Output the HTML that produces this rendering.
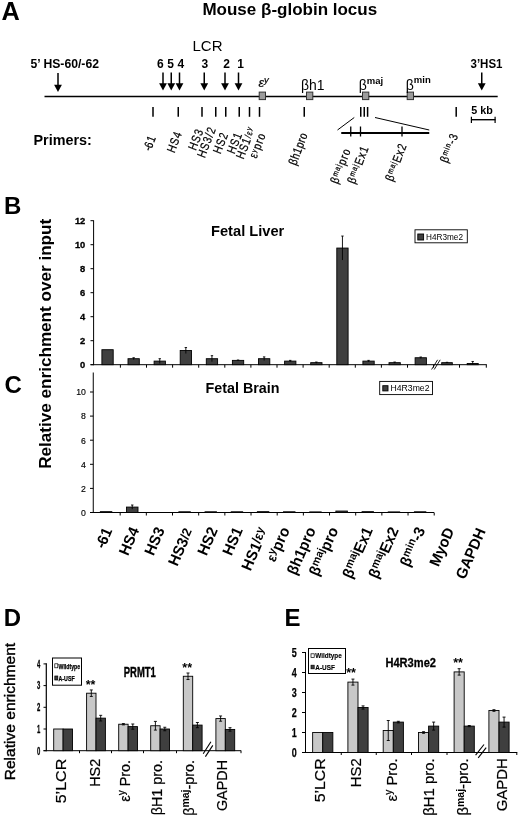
<!DOCTYPE html>
<html><head><meta charset="utf-8"><title>Mouse β-globin locus</title>
<style>
html,body{margin:0;padding:0;background:#fff;}
svg{display:block;font-family:"Liberation Sans", sans-serif;fill:#000;}
</style></head><body>
<svg width="520" height="819" viewBox="0 0 520 819">
<rect x="0" y="0" width="520" height="819" fill="#fff" stroke="none"/>
<text x="1.6" y="19.6" font-size="25.3" font-weight="bold" text-anchor="start" >A</text>
<text x="289.8" y="14.7" font-size="17" font-weight="bold" text-anchor="middle" >Mouse β-globin locus</text>
<text x="192.5" y="51.3" font-size="15" font-weight="normal" text-anchor="start" >LCR</text>
<text x="30.5" y="67.8" font-size="12" font-weight="bold" text-anchor="start" textLength="68.5" lengthAdjust="spacingAndGlyphs" >5’ HS-60/-62</text>
<text x="160.3" y="67.8" font-size="12" font-weight="bold" text-anchor="middle" >6</text>
<text x="170.5" y="67.8" font-size="12" font-weight="bold" text-anchor="middle" >5</text>
<text x="180.9" y="67.8" font-size="12" font-weight="bold" text-anchor="middle" >4</text>
<text x="204.8" y="67.8" font-size="12" font-weight="bold" text-anchor="middle" >3</text>
<text x="226.6" y="67.8" font-size="12" font-weight="bold" text-anchor="middle" >2</text>
<text x="240.6" y="67.8" font-size="12" font-weight="bold" text-anchor="middle" >1</text>
<text x="470.5" y="67.8" font-size="12" font-weight="bold" text-anchor="start" textLength="32" lengthAdjust="spacingAndGlyphs" >3’HS1</text>
<line x1="58" y1="73" x2="58" y2="85.7" stroke="#000" stroke-width="1.5"/>
<path d="M54.1,84.7 L61.9,84.7 L58,92 Z" fill="#000"/>
<line x1="163" y1="72.5" x2="163" y2="84.2" stroke="#000" stroke-width="1.5"/>
<path d="M159.1,83.2 L166.9,83.2 L163,90.5 Z" fill="#000"/>
<line x1="171.25" y1="72.5" x2="171.25" y2="84.2" stroke="#000" stroke-width="1.5"/>
<path d="M167.35,83.2 L175.15,83.2 L171.25,90.5 Z" fill="#000"/>
<line x1="179.5" y1="72.5" x2="179.5" y2="84.2" stroke="#000" stroke-width="1.5"/>
<path d="M175.6,83.2 L183.4,83.2 L179.5,90.5 Z" fill="#000"/>
<line x1="204.25" y1="72.5" x2="204.25" y2="84.2" stroke="#000" stroke-width="1.5"/>
<path d="M200.35,83.2 L208.15,83.2 L204.25,90.5 Z" fill="#000"/>
<line x1="225" y1="72.5" x2="225" y2="84.2" stroke="#000" stroke-width="1.5"/>
<path d="M221.1,83.2 L228.9,83.2 L225,90.5 Z" fill="#000"/>
<line x1="238.5" y1="72.5" x2="238.5" y2="84.2" stroke="#000" stroke-width="1.5"/>
<path d="M234.6,83.2 L242.4,83.2 L238.5,90.5 Z" fill="#000"/>
<line x1="481.75" y1="72.5" x2="481.75" y2="84.2" stroke="#000" stroke-width="1.5"/>
<path d="M477.85,83.2 L485.65,83.2 L481.75,90.5 Z" fill="#000"/>
<line x1="44.5" y1="96.5" x2="497.7" y2="96.5" stroke="#000" stroke-width="1.6"/>
<rect x="259.20" y="92.10" width="6.30" height="7.50" fill="#9c9c9c" stroke="#333" stroke-width="1"/>
<rect x="306.50" y="92.10" width="6.30" height="7.50" fill="#9c9c9c" stroke="#333" stroke-width="1"/>
<rect x="362.50" y="92.10" width="6.30" height="7.50" fill="#9c9c9c" stroke="#333" stroke-width="1"/>
<rect x="407.20" y="92.10" width="6.30" height="7.50" fill="#9c9c9c" stroke="#333" stroke-width="1"/>
<text x="258.6" y="86.7" font-size="12.5" font-weight="normal" text-anchor="start" font-style="italic" stroke="#000" stroke-width="0.2"><tspan font-style="italic">ε</tspan><tspan dy="-4" font-size="9.5">y</tspan><tspan dy="4" font-size="0.1">&#8203;</tspan></text>
<text x="301" y="90.3" font-size="15.5" font-weight="normal" text-anchor="start" textLength="23.5" lengthAdjust="spacingAndGlyphs" >βh1</text>
<text x="358.7" y="89.5" font-size="14" font-weight="normal" text-anchor="start" >β<tspan dy="-5.5" font-size="9.5" font-weight="bold">maj</tspan></text>
<text x="405.8" y="89.5" font-size="14" font-weight="normal" text-anchor="start" >β<tspan dy="-6.8" font-size="9.5" font-weight="bold">min</tspan></text>
<line x1="153" y1="107" x2="153" y2="116.8" stroke="#000" stroke-width="1.5"/>
<line x1="178.25" y1="107" x2="178.25" y2="116.8" stroke="#000" stroke-width="1.5"/>
<line x1="202" y1="107" x2="202" y2="116.8" stroke="#000" stroke-width="1.5"/>
<line x1="215.75" y1="107" x2="215.75" y2="116.8" stroke="#000" stroke-width="1.5"/>
<line x1="225.75" y1="107" x2="225.75" y2="116.8" stroke="#000" stroke-width="1.5"/>
<line x1="239.25" y1="107" x2="239.25" y2="116.8" stroke="#000" stroke-width="1.5"/>
<line x1="249.5" y1="107" x2="249.5" y2="116.8" stroke="#000" stroke-width="1.5"/>
<line x1="259.5" y1="107" x2="259.5" y2="116.8" stroke="#000" stroke-width="1.5"/>
<line x1="304.25" y1="107" x2="304.25" y2="116.8" stroke="#000" stroke-width="1.5"/>
<line x1="360.75" y1="107" x2="360.75" y2="116.8" stroke="#000" stroke-width="1.5"/>
<line x1="364.25" y1="107" x2="364.25" y2="116.8" stroke="#000" stroke-width="1.5"/>
<line x1="367.6" y1="107" x2="367.6" y2="116.8" stroke="#000" stroke-width="1.5"/>
<line x1="456.2" y1="107" x2="456.2" y2="116.8" stroke="#000" stroke-width="1.5"/>
<line x1="337.5" y1="130" x2="354.25" y2="117.5" stroke="#000" stroke-width="1"/>
<line x1="375" y1="117.5" x2="429.25" y2="130" stroke="#000" stroke-width="1"/>
<line x1="341.25" y1="133" x2="429.25" y2="133" stroke="#000" stroke-width="2"/>
<line x1="350.75" y1="126.5" x2="350.75" y2="136.5" stroke="#000" stroke-width="1.3"/>
<line x1="360.5" y1="126.5" x2="360.5" y2="136.5" stroke="#000" stroke-width="1.3"/>
<line x1="402" y1="126.5" x2="402" y2="136.5" stroke="#000" stroke-width="1.3"/>
<text x="471.3" y="113.8" font-size="10.5" font-weight="bold" text-anchor="start" textLength="21.5" lengthAdjust="spacingAndGlyphs" >5 kb</text>
<line x1="471" y1="119.7" x2="495.5" y2="119.7" stroke="#000" stroke-width="1.4"/>
<line x1="471.4" y1="116.7" x2="471.4" y2="123" stroke="#000" stroke-width="1.2"/>
<line x1="495.1" y1="116.7" x2="495.1" y2="123" stroke="#000" stroke-width="1.2"/>
<text x="33.5" y="144.7" font-size="14" font-weight="bold" text-anchor="start" textLength="58.3" lengthAdjust="spacingAndGlyphs" >Primers:</text>
<text transform="translate(156.3,137) rotate(-69) scale(0.8,1)" font-size="12.3" font-weight="normal" text-anchor="end" letter-spacing="1.2" stroke="#000" stroke-width="0.25"><tspan letter-spacing="-0.5">-</tspan>61</text>
<text transform="translate(182.3,133) rotate(-69) scale(0.8,1)" font-size="12.3" font-weight="normal" text-anchor="end" letter-spacing="1.2" stroke="#000" stroke-width="0.25">HS4</text>
<text transform="translate(203.7,130.5) rotate(-69) scale(0.8,1)" font-size="12.3" font-weight="normal" text-anchor="end" letter-spacing="1.2" stroke="#000" stroke-width="0.25">HS3</text>
<text transform="translate(216.2,128.5) rotate(-69) scale(0.8,1)" font-size="12.3" font-weight="normal" text-anchor="end" letter-spacing="1.2" stroke="#000" stroke-width="0.25">HS3/2</text>
<text transform="translate(228.5,134) rotate(-69) scale(0.8,1)" font-size="12.3" font-weight="normal" text-anchor="end" letter-spacing="1.2" stroke="#000" stroke-width="0.25">HS2</text>
<text transform="translate(242.5,134) rotate(-69) scale(0.8,1)" font-size="12.3" font-weight="normal" text-anchor="end" letter-spacing="1.2" stroke="#000" stroke-width="0.25">HS1</text>
<text transform="translate(255.5,128.5) rotate(-69) scale(0.8,1)" font-size="12.3" font-weight="normal" text-anchor="end" letter-spacing="1.2" stroke="#000" stroke-width="0.25">HS1<tspan font-size="9.5" dy="-1">/ε</tspan><tspan dy="-2.5" font-size="7.5">y</tspan><tspan dy="2.5" font-size="0.1">&#8203;</tspan></text>
<text transform="translate(266,134.5) rotate(-69) scale(0.8,1)" font-size="12.3" font-weight="normal" text-anchor="end" letter-spacing="1.2" stroke="#000" stroke-width="0.25">ε<tspan dy="-3" font-size="7">y</tspan><tspan dy="3" font-size="0.1">&#8203;</tspan>pro</text>
<text transform="translate(308,134.5) rotate(-69) scale(0.8,1)" font-size="12.3" font-weight="normal" text-anchor="end" letter-spacing="1.2" stroke="#000" stroke-width="0.25"><tspan letter-spacing="0.6">βh1pro</tspan></text>
<text transform="translate(351,150) rotate(-69) scale(0.8,1)" font-size="12.3" font-weight="normal" text-anchor="end" letter-spacing="1.2" stroke="#000" stroke-width="0.25">β<tspan dy="-3.5" font-size="8">maj</tspan><tspan dy="3.5" font-size="0.1">&#8203;</tspan>pro</text>
<text transform="translate(369,147.5) rotate(-69) scale(0.8,1)" font-size="12.3" font-weight="normal" text-anchor="end" letter-spacing="1.2" stroke="#000" stroke-width="0.25">β<tspan dy="-3.5" font-size="8">maj</tspan><tspan dy="3.5" font-size="0.1">&#8203;</tspan>Ex1</text>
<text transform="translate(407,145) rotate(-69) scale(0.8,1)" font-size="12.3" font-weight="normal" text-anchor="end" letter-spacing="1.2" stroke="#000" stroke-width="0.25">β<tspan dy="-3.5" font-size="8">maj</tspan><tspan dy="3.5" font-size="0.1">&#8203;</tspan>Ex2</text>
<text transform="translate(458.5,135) rotate(-69) scale(0.8,1)" font-size="12.3" font-weight="normal" text-anchor="end" letter-spacing="1.2" stroke="#000" stroke-width="0.25">β<tspan dy="-3.5" font-size="8">min</tspan><tspan dy="3.5" font-size="0.1">&#8203;</tspan>-3</text>
<text x="3.9" y="214" font-size="24" font-weight="bold" text-anchor="start" >B</text>
<text transform="translate(51.3,468.8) rotate(-90)" font-size="17" font-weight="bold" text-anchor="start" textLength="250" lengthAdjust="spacingAndGlyphs" >Relative enrichment over input</text>
<text x="211" y="236.3" font-size="14.5" font-weight="bold" text-anchor="start" textLength="73.3" lengthAdjust="spacingAndGlyphs" >Fetal Liver</text>
<line x1="93.6" y1="220.3" x2="93.6" y2="365.2" stroke="#000" stroke-width="1"/>
<line x1="90.5" y1="364.7" x2="486.8" y2="364.7" stroke="#000" stroke-width="1"/>
<line x1="90.5" y1="364.7" x2="93.6" y2="364.7" stroke="#000" stroke-width="1"/>
<text x="85.3" y="367.9" font-size="8.5" font-weight="bold" text-anchor="end" textLength="5.2" lengthAdjust="spacingAndGlyphs" stroke="#000" stroke-width="0.3">0</text>
<line x1="90.5" y1="340.7" x2="93.6" y2="340.7" stroke="#000" stroke-width="1"/>
<text x="85.3" y="343.9" font-size="8.5" font-weight="bold" text-anchor="end" textLength="5.2" lengthAdjust="spacingAndGlyphs" stroke="#000" stroke-width="0.3">2</text>
<line x1="90.5" y1="316.7" x2="93.6" y2="316.7" stroke="#000" stroke-width="1"/>
<text x="85.3" y="319.9" font-size="8.5" font-weight="bold" text-anchor="end" textLength="5.2" lengthAdjust="spacingAndGlyphs" stroke="#000" stroke-width="0.3">4</text>
<line x1="90.5" y1="292.7" x2="93.6" y2="292.7" stroke="#000" stroke-width="1"/>
<text x="85.3" y="295.9" font-size="8.5" font-weight="bold" text-anchor="end" textLength="5.2" lengthAdjust="spacingAndGlyphs" stroke="#000" stroke-width="0.3">6</text>
<line x1="90.5" y1="268.7" x2="93.6" y2="268.7" stroke="#000" stroke-width="1"/>
<text x="85.3" y="271.9" font-size="8.5" font-weight="bold" text-anchor="end" textLength="5.2" lengthAdjust="spacingAndGlyphs" stroke="#000" stroke-width="0.3">8</text>
<line x1="90.5" y1="244.7" x2="93.6" y2="244.7" stroke="#000" stroke-width="1"/>
<text x="85.3" y="247.89999999999998" font-size="8.5" font-weight="bold" text-anchor="end" textLength="10.4" lengthAdjust="spacingAndGlyphs" stroke="#000" stroke-width="0.3">10</text>
<line x1="90.5" y1="220.7" x2="93.6" y2="220.7" stroke="#000" stroke-width="1"/>
<text x="85.3" y="223.89999999999998" font-size="8.5" font-weight="bold" text-anchor="end" textLength="10.4" lengthAdjust="spacingAndGlyphs" stroke="#000" stroke-width="0.3">12</text>
<line x1="120.4" y1="364.7" x2="120.4" y2="367.7" stroke="#000" stroke-width="1"/>
<line x1="146.5" y1="364.7" x2="146.5" y2="367.7" stroke="#000" stroke-width="1"/>
<line x1="172.60000000000002" y1="364.7" x2="172.60000000000002" y2="367.7" stroke="#000" stroke-width="1"/>
<line x1="198.7" y1="364.7" x2="198.7" y2="367.7" stroke="#000" stroke-width="1"/>
<line x1="224.8" y1="364.7" x2="224.8" y2="367.7" stroke="#000" stroke-width="1"/>
<line x1="250.90000000000003" y1="364.7" x2="250.90000000000003" y2="367.7" stroke="#000" stroke-width="1"/>
<line x1="277.0" y1="364.7" x2="277.0" y2="367.7" stroke="#000" stroke-width="1"/>
<line x1="303.1" y1="364.7" x2="303.1" y2="367.7" stroke="#000" stroke-width="1"/>
<line x1="329.2" y1="364.7" x2="329.2" y2="367.7" stroke="#000" stroke-width="1"/>
<line x1="355.3" y1="364.7" x2="355.3" y2="367.7" stroke="#000" stroke-width="1"/>
<line x1="381.40000000000003" y1="364.7" x2="381.40000000000003" y2="367.7" stroke="#000" stroke-width="1"/>
<line x1="407.50000000000006" y1="364.7" x2="407.50000000000006" y2="367.7" stroke="#000" stroke-width="1"/>
<line x1="433.6" y1="364.7" x2="433.6" y2="367.7" stroke="#000" stroke-width="1"/>
<rect x="101.90" y="349.70" width="11.30" height="15.00" fill="#3f3f3f" stroke="#000" stroke-width="0.9"/>
<rect x="128.00" y="358.70" width="11.30" height="6.00" fill="#3f3f3f" stroke="#000" stroke-width="0.9"/>
<line x1="133.64999999999998" y1="357.74" x2="133.64999999999998" y2="359.65999999999997" stroke="#000" stroke-width="0.9"/>
<line x1="132.45" y1="357.74" x2="134.84999999999997" y2="357.74" stroke="#000" stroke-width="0.9"/>
<rect x="154.10" y="361.10" width="11.30" height="3.60" fill="#3f3f3f" stroke="#000" stroke-width="0.9"/>
<line x1="159.75" y1="358.7" x2="159.75" y2="363.49999999999994" stroke="#000" stroke-width="0.9"/>
<line x1="158.55" y1="358.7" x2="160.95" y2="358.7" stroke="#000" stroke-width="0.9"/>
<rect x="180.20" y="350.54" width="11.30" height="14.16" fill="#3f3f3f" stroke="#000" stroke-width="0.9"/>
<line x1="185.85" y1="347.53999999999996" x2="185.85" y2="353.53999999999996" stroke="#000" stroke-width="0.9"/>
<line x1="184.65" y1="347.53999999999996" x2="187.04999999999998" y2="347.53999999999996" stroke="#000" stroke-width="0.9"/>
<rect x="206.30" y="358.70" width="11.30" height="6.00" fill="#3f3f3f" stroke="#000" stroke-width="0.9"/>
<line x1="211.95" y1="355.7" x2="211.95" y2="361.7" stroke="#000" stroke-width="0.9"/>
<line x1="210.75" y1="355.7" x2="213.14999999999998" y2="355.7" stroke="#000" stroke-width="0.9"/>
<rect x="232.40" y="360.38" width="11.30" height="4.32" fill="#3f3f3f" stroke="#000" stroke-width="0.9"/>
<line x1="238.05" y1="360.02" x2="238.05" y2="360.74" stroke="#000" stroke-width="0.9"/>
<line x1="236.85000000000002" y1="360.02" x2="239.25" y2="360.02" stroke="#000" stroke-width="0.9"/>
<rect x="258.50" y="358.70" width="11.30" height="6.00" fill="#3f3f3f" stroke="#000" stroke-width="0.9"/>
<line x1="264.15" y1="356.9" x2="264.15" y2="360.5" stroke="#000" stroke-width="0.9"/>
<line x1="262.95" y1="356.9" x2="265.34999999999997" y2="356.9" stroke="#000" stroke-width="0.9"/>
<rect x="284.60" y="361.10" width="11.30" height="3.60" fill="#3f3f3f" stroke="#000" stroke-width="0.9"/>
<line x1="290.25" y1="360.37999999999994" x2="290.25" y2="361.82" stroke="#000" stroke-width="0.9"/>
<line x1="289.05" y1="360.37999999999994" x2="291.45" y2="360.37999999999994" stroke="#000" stroke-width="0.9"/>
<rect x="310.70" y="362.66" width="11.30" height="2.04" fill="#3f3f3f" stroke="#000" stroke-width="0.9"/>
<line x1="316.35" y1="362.05999999999995" x2="316.35" y2="363.26" stroke="#000" stroke-width="0.9"/>
<line x1="315.15000000000003" y1="362.05999999999995" x2="317.55" y2="362.05999999999995" stroke="#000" stroke-width="0.9"/>
<rect x="336.80" y="248.06" width="11.30" height="116.64" fill="#3f3f3f" stroke="#000" stroke-width="0.9"/>
<line x1="342.45" y1="236.05999999999997" x2="342.45" y2="260.05999999999995" stroke="#000" stroke-width="0.9"/>
<line x1="341.25" y1="236.05999999999997" x2="343.65" y2="236.05999999999997" stroke="#000" stroke-width="0.9"/>
<rect x="362.90" y="361.10" width="11.30" height="3.60" fill="#3f3f3f" stroke="#000" stroke-width="0.9"/>
<line x1="368.55" y1="360.37999999999994" x2="368.55" y2="361.82" stroke="#000" stroke-width="0.9"/>
<line x1="367.35" y1="360.37999999999994" x2="369.75" y2="360.37999999999994" stroke="#000" stroke-width="0.9"/>
<rect x="389.00" y="362.66" width="11.30" height="2.04" fill="#3f3f3f" stroke="#000" stroke-width="0.9"/>
<line x1="394.65000000000003" y1="362.05999999999995" x2="394.65000000000003" y2="363.26" stroke="#000" stroke-width="0.9"/>
<line x1="393.45000000000005" y1="362.05999999999995" x2="395.85" y2="362.05999999999995" stroke="#000" stroke-width="0.9"/>
<rect x="415.10" y="357.74" width="11.30" height="6.96" fill="#3f3f3f" stroke="#000" stroke-width="0.9"/>
<line x1="420.75" y1="357.02" x2="420.75" y2="358.46000000000004" stroke="#000" stroke-width="0.9"/>
<line x1="419.55" y1="357.02" x2="421.95" y2="357.02" stroke="#000" stroke-width="0.9"/>
<line x1="431.6" y1="369.5" x2="437.6" y2="359.8" stroke="#000" stroke-width="0.9"/>
<line x1="434.2" y1="369.5" x2="440.2" y2="359.8" stroke="#000" stroke-width="0.9"/>
<line x1="459.5" y1="364.7" x2="459.5" y2="367.7" stroke="#000" stroke-width="1"/>
<line x1="486.3" y1="364.7" x2="486.3" y2="367.7" stroke="#000" stroke-width="1"/>
<rect x="441.70" y="362.66" width="10.60" height="2.04" fill="#3f3f3f" stroke="#000" stroke-width="0.9"/>
<line x1="447" y1="362.29999999999995" x2="447" y2="363.02" stroke="#000" stroke-width="0.9"/>
<line x1="445.8" y1="362.29999999999995" x2="448.2" y2="362.29999999999995" stroke="#000" stroke-width="0.9"/>
<rect x="467.20" y="363.50" width="11.00" height="1.20" fill="#3f3f3f" stroke="#000" stroke-width="0.9"/>
<line x1="472.7" y1="361.46" x2="472.7" y2="364.7" stroke="#000" stroke-width="0.9"/>
<line x1="471.5" y1="361.46" x2="473.9" y2="361.46" stroke="#000" stroke-width="0.9"/>
<rect x="415.00" y="229.80" width="52.30" height="13.00" fill="#fff" stroke="#000" stroke-width="0.9"/>
<rect x="417.80" y="234.00" width="5.80" height="6.00" fill="#3f3f3f" stroke="#000" stroke-width="0.9"/>
<text x="426" y="239.9" font-size="8.3" font-weight="normal" text-anchor="start" textLength="37" lengthAdjust="spacingAndGlyphs" >H4R3me2</text>
<text x="4.6" y="393.4" font-size="24" font-weight="bold" text-anchor="start" >C</text>
<text x="205.5" y="393" font-size="14" font-weight="bold" text-anchor="start" textLength="74" lengthAdjust="spacingAndGlyphs" >Fetal Brain</text>
<line x1="93.25" y1="372.5" x2="93.25" y2="513.0" stroke="#000" stroke-width="1"/>
<line x1="90" y1="512.5" x2="434" y2="512.5" stroke="#000" stroke-width="1"/>
<line x1="90" y1="512.5" x2="93.25" y2="512.5" stroke="#000" stroke-width="1"/>
<text x="85.8" y="515.8" font-size="8.7" font-weight="normal" text-anchor="end" stroke="#000" stroke-width="0.15">0</text>
<line x1="90" y1="488.4" x2="93.25" y2="488.4" stroke="#000" stroke-width="1"/>
<text x="85.8" y="491.7" font-size="8.7" font-weight="normal" text-anchor="end" stroke="#000" stroke-width="0.15">2</text>
<line x1="90" y1="464.3" x2="93.25" y2="464.3" stroke="#000" stroke-width="1"/>
<text x="85.8" y="467.6" font-size="8.7" font-weight="normal" text-anchor="end" stroke="#000" stroke-width="0.15">4</text>
<line x1="90" y1="440.2" x2="93.25" y2="440.2" stroke="#000" stroke-width="1"/>
<text x="85.8" y="443.5" font-size="8.7" font-weight="normal" text-anchor="end" stroke="#000" stroke-width="0.15">6</text>
<line x1="90" y1="416.1" x2="93.25" y2="416.1" stroke="#000" stroke-width="1"/>
<text x="85.8" y="419.40000000000003" font-size="8.7" font-weight="normal" text-anchor="end" stroke="#000" stroke-width="0.15">8</text>
<line x1="90" y1="392.0" x2="93.25" y2="392.0" stroke="#000" stroke-width="1"/>
<text x="85.8" y="395.3" font-size="8.7" font-weight="normal" text-anchor="end" stroke="#000" stroke-width="0.15">10</text>
<line x1="120.17" y1="512.5" x2="120.17" y2="515.5" stroke="#000" stroke-width="1"/>
<line x1="146.34" y1="512.5" x2="146.34" y2="515.5" stroke="#000" stroke-width="1"/>
<line x1="172.51" y1="512.5" x2="172.51" y2="515.5" stroke="#000" stroke-width="1"/>
<line x1="198.68" y1="512.5" x2="198.68" y2="515.5" stroke="#000" stroke-width="1"/>
<line x1="224.85000000000002" y1="512.5" x2="224.85000000000002" y2="515.5" stroke="#000" stroke-width="1"/>
<line x1="251.02" y1="512.5" x2="251.02" y2="515.5" stroke="#000" stroke-width="1"/>
<line x1="277.19" y1="512.5" x2="277.19" y2="515.5" stroke="#000" stroke-width="1"/>
<line x1="303.36" y1="512.5" x2="303.36" y2="515.5" stroke="#000" stroke-width="1"/>
<line x1="329.53000000000003" y1="512.5" x2="329.53000000000003" y2="515.5" stroke="#000" stroke-width="1"/>
<line x1="355.70000000000005" y1="512.5" x2="355.70000000000005" y2="515.5" stroke="#000" stroke-width="1"/>
<line x1="381.87" y1="512.5" x2="381.87" y2="515.5" stroke="#000" stroke-width="1"/>
<line x1="408.04" y1="512.5" x2="408.04" y2="515.5" stroke="#000" stroke-width="1"/>
<line x1="434.21000000000004" y1="512.5" x2="434.21000000000004" y2="515.5" stroke="#000" stroke-width="1"/>
<rect x="100.34" y="511.66" width="11.50" height="0.84" fill="#3f3f3f" stroke="#000" stroke-width="0.9"/>
<rect x="126.50" y="507.08" width="11.50" height="5.42" fill="#3f3f3f" stroke="#000" stroke-width="0.9"/>
<line x1="132.255" y1="505.029" x2="132.255" y2="509.126" stroke="#000" stroke-width="0.9"/>
<line x1="131.055" y1="505.029" x2="133.45499999999998" y2="505.029" stroke="#000" stroke-width="0.9"/>
<rect x="178.84" y="511.78" width="11.50" height="0.72" fill="#3f3f3f" stroke="#000" stroke-width="0.9"/>
<rect x="205.02" y="511.78" width="11.50" height="0.72" fill="#3f3f3f" stroke="#000" stroke-width="0.9"/>
<rect x="231.19" y="511.78" width="11.50" height="0.72" fill="#3f3f3f" stroke="#000" stroke-width="0.9"/>
<rect x="257.36" y="511.66" width="11.50" height="0.84" fill="#3f3f3f" stroke="#000" stroke-width="0.9"/>
<rect x="283.52" y="511.78" width="11.50" height="0.72" fill="#3f3f3f" stroke="#000" stroke-width="0.9"/>
<rect x="309.70" y="511.90" width="11.50" height="0.60" fill="#3f3f3f" stroke="#000" stroke-width="0.9"/>
<rect x="335.87" y="511.05" width="11.50" height="1.45" fill="#3f3f3f" stroke="#000" stroke-width="0.9"/>
<rect x="362.04" y="511.66" width="11.50" height="0.84" fill="#3f3f3f" stroke="#000" stroke-width="0.9"/>
<rect x="388.21" y="511.90" width="11.50" height="0.60" fill="#3f3f3f" stroke="#000" stroke-width="0.9"/>
<rect x="414.38" y="511.78" width="11.50" height="0.72" fill="#3f3f3f" stroke="#000" stroke-width="0.9"/>
<rect x="379.70" y="381.40" width="52.80" height="13.20" fill="#fff" stroke="#000" stroke-width="0.9"/>
<rect x="382.80" y="385.70" width="5.20" height="5.20" fill="#3f3f3f" stroke="#000" stroke-width="0.9"/>
<text x="390.5" y="391.4" font-size="8.7" font-weight="normal" text-anchor="start" textLength="39" lengthAdjust="spacingAndGlyphs" >H4R3me2</text>
<text transform="translate(112.5,530.5) rotate(-66.5) scale(0.97,1)" font-size="15.3" font-weight="bold" text-anchor="end" ><tspan letter-spacing="-0.8">-</tspan>61</text>
<text transform="translate(139.5,530) rotate(-66.5) scale(0.97,1)" font-size="15.3" font-weight="bold" text-anchor="end" >HS4</text>
<text transform="translate(165,530) rotate(-66.5) scale(0.97,1)" font-size="15.3" font-weight="bold" text-anchor="end" >HS3</text>
<text transform="translate(193,531) rotate(-66.5) scale(0.97,1)" font-size="15.3" font-weight="bold" text-anchor="end" >HS3<tspan dy="-1" font-size="13">/2</tspan></text>
<text transform="translate(218,530) rotate(-66.5) scale(0.97,1)" font-size="15.3" font-weight="bold" text-anchor="end" >HS2</text>
<text transform="translate(243,530) rotate(-66.5) scale(0.97,1)" font-size="15.3" font-weight="bold" text-anchor="end" >HS1</text>
<text transform="translate(268.5,530.5) rotate(-66.5) scale(0.97,1)" font-size="15.3" font-weight="bold" text-anchor="end" >HS1<tspan dy="-2.5" font-size="13.5">/ε</tspan><tspan dy="-2" font-size="11.5">y</tspan></text>
<text transform="translate(290,530) rotate(-66.5) scale(0.97,1)" font-size="15.3" font-weight="bold" text-anchor="end" ><tspan dy="-1" font-size="13.5">ε</tspan><tspan dy="-3.5" font-size="11">y</tspan><tspan dy="3.5" font-size="0.1">&#8203;</tspan><tspan dy="1">pro</tspan></text>
<text transform="translate(316,530) rotate(-66.5) scale(0.97,1)" font-size="15.3" font-weight="bold" text-anchor="end" >βh1pro</text>
<text transform="translate(338.5,530) rotate(-66.5) scale(0.97,1)" font-size="15.3" font-weight="bold" text-anchor="end" >β<tspan dy="-4.5" font-size="11">maj</tspan><tspan dy="4.5" font-size="0.1">&#8203;</tspan>pro</text>
<text transform="translate(373,530) rotate(-66.5) scale(0.97,1)" font-size="15.3" font-weight="bold" text-anchor="end" >β<tspan dy="-4.5" font-size="11">maj</tspan><tspan dy="4.5" font-size="0.1">&#8203;</tspan>Ex1</text>
<text transform="translate(399,530) rotate(-66.5) scale(0.97,1)" font-size="15.3" font-weight="bold" text-anchor="end" >β<tspan dy="-4.5" font-size="11">maj</tspan><tspan dy="4.5" font-size="0.1">&#8203;</tspan>Ex2</text>
<text transform="translate(425.5,530) rotate(-66.5) scale(0.97,1)" font-size="15.3" font-weight="bold" text-anchor="end" >β<tspan dy="-4.5" font-size="11">min</tspan><tspan dy="4.5" font-size="0.1">&#8203;</tspan>-3</text>
<text transform="translate(454.5,530.5) rotate(-66.5) scale(0.97,1)" font-size="15.3" font-weight="bold" text-anchor="end" >MyoD</text>
<text transform="translate(486,531) rotate(-66.5) scale(0.97,1)" font-size="15.3" font-weight="bold" text-anchor="end" >GAPDH</text>
<text x="3.8" y="626" font-size="24" font-weight="bold" text-anchor="start" textLength="17.3" lengthAdjust="spacingAndGlyphs" >D</text>
<text transform="translate(15.3,780.3) rotate(-90)" font-size="15.5" font-weight="normal" text-anchor="start" textLength="137.5" lengthAdjust="spacingAndGlyphs" stroke="#000" stroke-width="0.4">Relative enrichment</text>
<line x1="46.3" y1="663.3" x2="46.3" y2="751.2" stroke="#000" stroke-width="1.2"/>
<line x1="43.5" y1="750.7" x2="241.2" y2="750.7" stroke="#000" stroke-width="1"/>
<line x1="43.5" y1="750.7" x2="46.3" y2="750.7" stroke="#000" stroke-width="1"/>
<text x="40.4" y="754.5" font-size="10.8" font-weight="bold" text-anchor="end" textLength="3.3" lengthAdjust="spacingAndGlyphs" stroke="#000" stroke-width="0.3">0</text>
<line x1="43.5" y1="729.0" x2="46.3" y2="729.0" stroke="#000" stroke-width="1"/>
<text x="40.4" y="732.8" font-size="10.8" font-weight="bold" text-anchor="end" textLength="3.3" lengthAdjust="spacingAndGlyphs" stroke="#000" stroke-width="0.3">1</text>
<line x1="43.5" y1="707.3000000000001" x2="46.3" y2="707.3000000000001" stroke="#000" stroke-width="1"/>
<text x="40.4" y="711.1" font-size="10.8" font-weight="bold" text-anchor="end" textLength="3.3" lengthAdjust="spacingAndGlyphs" stroke="#000" stroke-width="0.3">2</text>
<line x1="43.5" y1="685.6" x2="46.3" y2="685.6" stroke="#000" stroke-width="1"/>
<text x="40.4" y="689.4" font-size="10.8" font-weight="bold" text-anchor="end" textLength="3.3" lengthAdjust="spacingAndGlyphs" stroke="#000" stroke-width="0.3">3</text>
<line x1="43.5" y1="663.9000000000001" x2="46.3" y2="663.9000000000001" stroke="#000" stroke-width="1"/>
<text x="40.4" y="667.7" font-size="10.8" font-weight="bold" text-anchor="end" textLength="3.3" lengthAdjust="spacingAndGlyphs" stroke="#000" stroke-width="0.3">4</text>
<rect x="52.50" y="658.00" width="29.00" height="27.20" fill="#fff" stroke="#000" stroke-width="1"/>
<rect x="54.80" y="663.80" width="3.00" height="4.00" fill="#fff" stroke="#000" stroke-width="0.7"/>
<text x="58.6" y="668.6" font-size="6.6" font-weight="bold" text-anchor="start" textLength="21.5" lengthAdjust="spacingAndGlyphs" stroke="#000" stroke-width="0.25">Wildtype</text>
<rect x="54.80" y="676.00" width="3.00" height="4.00" fill="#3f3f3f" stroke="#000" stroke-width="0.7"/>
<text x="58.6" y="680.7" font-size="6.6" font-weight="bold" text-anchor="start" textLength="16" lengthAdjust="spacingAndGlyphs" stroke="#000" stroke-width="0.25">A-USF</text>
<text x="123.8" y="677" font-size="14.5" font-weight="bold" text-anchor="start" textLength="32" lengthAdjust="spacingAndGlyphs" stroke="#000" stroke-width="0.4">PRMT1</text>
<text x="90.6" y="688.5" font-size="12.5" font-weight="bold" text-anchor="middle" >**</text>
<text x="187.2" y="671.5" font-size="12.5" font-weight="bold" text-anchor="middle" >**</text>
<rect x="53.70" y="729.00" width="9.40" height="21.70" fill="#c8c8c8" stroke="#000" stroke-width="0.9"/>
<rect x="63.10" y="729.00" width="9.40" height="21.70" fill="#3f3f3f" stroke="#000" stroke-width="0.9"/>
<rect x="86.60" y="693.20" width="9.40" height="57.50" fill="#c8c8c8" stroke="#000" stroke-width="0.9"/>
<line x1="91.3" y1="689.94" x2="91.3" y2="696.45" stroke="#000" stroke-width="0.9"/>
<line x1="89.8" y1="689.94" x2="92.8" y2="689.94" stroke="#000" stroke-width="0.9"/>
<line x1="89.8" y1="696.45" x2="92.8" y2="696.45" stroke="#000" stroke-width="0.9"/>
<rect x="96.00" y="718.15" width="9.40" height="32.55" fill="#3f3f3f" stroke="#000" stroke-width="0.9"/>
<line x1="100.7" y1="715.3290000000001" x2="100.7" y2="720.9710000000001" stroke="#000" stroke-width="0.9"/>
<line x1="99.2" y1="715.3290000000001" x2="102.2" y2="715.3290000000001" stroke="#000" stroke-width="0.9"/>
<line x1="99.2" y1="720.9710000000001" x2="102.2" y2="720.9710000000001" stroke="#000" stroke-width="0.9"/>
<rect x="118.70" y="724.23" width="9.40" height="26.47" fill="#c8c8c8" stroke="#000" stroke-width="0.9"/>
<line x1="123.39999999999999" y1="723.575" x2="123.39999999999999" y2="724.877" stroke="#000" stroke-width="0.9"/>
<line x1="121.89999999999999" y1="723.575" x2="124.89999999999999" y2="723.575" stroke="#000" stroke-width="0.9"/>
<line x1="121.89999999999999" y1="724.877" x2="124.89999999999999" y2="724.877" stroke="#000" stroke-width="0.9"/>
<rect x="128.10" y="726.61" width="9.40" height="24.09" fill="#3f3f3f" stroke="#000" stroke-width="0.9"/>
<line x1="132.79999999999998" y1="724.009" x2="132.79999999999998" y2="729.2170000000001" stroke="#000" stroke-width="0.9"/>
<line x1="131.29999999999998" y1="724.009" x2="134.29999999999998" y2="724.009" stroke="#000" stroke-width="0.9"/>
<line x1="131.29999999999998" y1="729.2170000000001" x2="134.29999999999998" y2="729.2170000000001" stroke="#000" stroke-width="0.9"/>
<rect x="150.70" y="725.75" width="9.40" height="24.95" fill="#c8c8c8" stroke="#000" stroke-width="0.9"/>
<line x1="155.4" y1="721.405" x2="155.4" y2="730.085" stroke="#000" stroke-width="0.9"/>
<line x1="153.9" y1="721.405" x2="156.9" y2="721.405" stroke="#000" stroke-width="0.9"/>
<line x1="153.9" y1="730.085" x2="156.9" y2="730.085" stroke="#000" stroke-width="0.9"/>
<rect x="160.10" y="729.00" width="9.40" height="21.70" fill="#3f3f3f" stroke="#000" stroke-width="0.9"/>
<line x1="164.79999999999998" y1="727.264" x2="164.79999999999998" y2="730.736" stroke="#000" stroke-width="0.9"/>
<line x1="163.29999999999998" y1="727.264" x2="166.29999999999998" y2="727.264" stroke="#000" stroke-width="0.9"/>
<line x1="163.29999999999998" y1="730.736" x2="166.29999999999998" y2="730.736" stroke="#000" stroke-width="0.9"/>
<rect x="183.30" y="676.27" width="9.40" height="74.43" fill="#c8c8c8" stroke="#000" stroke-width="0.9"/>
<line x1="188.0" y1="673.014" x2="188.0" y2="679.524" stroke="#000" stroke-width="0.9"/>
<line x1="186.5" y1="673.014" x2="189.5" y2="673.014" stroke="#000" stroke-width="0.9"/>
<line x1="186.5" y1="679.524" x2="189.5" y2="679.524" stroke="#000" stroke-width="0.9"/>
<rect x="192.70" y="725.09" width="9.40" height="25.61" fill="#3f3f3f" stroke="#000" stroke-width="0.9"/>
<line x1="197.39999999999998" y1="722.49" x2="197.39999999999998" y2="727.6980000000001" stroke="#000" stroke-width="0.9"/>
<line x1="195.89999999999998" y1="722.49" x2="198.89999999999998" y2="722.49" stroke="#000" stroke-width="0.9"/>
<line x1="195.89999999999998" y1="727.6980000000001" x2="198.89999999999998" y2="727.6980000000001" stroke="#000" stroke-width="0.9"/>
<rect x="215.90" y="718.58" width="9.40" height="32.12" fill="#c8c8c8" stroke="#000" stroke-width="0.9"/>
<line x1="220.60000000000002" y1="715.98" x2="220.60000000000002" y2="721.1880000000001" stroke="#000" stroke-width="0.9"/>
<line x1="219.10000000000002" y1="715.98" x2="222.10000000000002" y2="715.98" stroke="#000" stroke-width="0.9"/>
<line x1="219.10000000000002" y1="721.1880000000001" x2="222.10000000000002" y2="721.1880000000001" stroke="#000" stroke-width="0.9"/>
<rect x="225.30" y="729.43" width="9.40" height="21.27" fill="#3f3f3f" stroke="#000" stroke-width="0.9"/>
<line x1="230.0" y1="727.6980000000001" x2="230.0" y2="731.1700000000001" stroke="#000" stroke-width="0.9"/>
<line x1="228.5" y1="727.6980000000001" x2="231.5" y2="727.6980000000001" stroke="#000" stroke-width="0.9"/>
<line x1="228.5" y1="731.1700000000001" x2="231.5" y2="731.1700000000001" stroke="#000" stroke-width="0.9"/>
<line x1="79.5" y1="750.7" x2="79.5" y2="753.2" stroke="#000" stroke-width="1"/>
<line x1="111.5" y1="750.7" x2="111.5" y2="753.2" stroke="#000" stroke-width="1"/>
<line x1="143.5" y1="750.7" x2="143.5" y2="753.2" stroke="#000" stroke-width="1"/>
<line x1="176.5" y1="750.7" x2="176.5" y2="753.2" stroke="#000" stroke-width="1"/>
<line x1="241" y1="750.7" x2="241" y2="753.2" stroke="#000" stroke-width="1"/>
<line x1="203.2" y1="753.8" x2="210.9" y2="741.7" stroke="#000" stroke-width="1.1"/>
<line x1="205.4" y1="756.6" x2="212.8" y2="745.4" stroke="#000" stroke-width="1.1"/>
<text transform="translate(65.5,758.8) rotate(-90)" font-size="14.4" font-weight="normal" text-anchor="end" textLength="44.5" lengthAdjust="spacingAndGlyphs" stroke="#000" stroke-width="0.2">5’LCR</text>
<text transform="translate(99.5,758.8) rotate(-90)" font-size="14.4" font-weight="normal" text-anchor="end" stroke="#000" stroke-width="0.2">HS2</text>
<text transform="translate(130,759.9) rotate(-90)" font-size="14.4" font-weight="normal" text-anchor="end" stroke="#000" stroke-width="0.2">ε<tspan dy="-5" font-size="10">y</tspan><tspan dy="5" font-size="0.1">&#8203;</tspan> Pro.</text>
<text transform="translate(162,759.9) rotate(-90)" font-size="14.4" font-weight="normal" text-anchor="end" stroke="#000" stroke-width="0.2">βH1 pro.</text>
<text transform="translate(193.5,759.9) rotate(-90)" font-size="14.4" font-weight="normal" text-anchor="end" stroke="#000" stroke-width="0.2">β<tspan dy="-4.5" font-size="10.5" font-weight="bold" stroke="none">maj</tspan><tspan dy="4.5">-pro.</tspan></text>
<text transform="translate(227,759.9) rotate(-90)" font-size="14.4" font-weight="normal" text-anchor="end" stroke="#000" stroke-width="0.2">GAPDH</text>
<text x="284.5" y="626" font-size="24" font-weight="bold" text-anchor="start" >E</text>
<line x1="305.5" y1="652" x2="305.5" y2="753.0" stroke="#000" stroke-width="1"/>
<line x1="302" y1="752.5" x2="517.3" y2="752.5" stroke="#000" stroke-width="1"/>
<line x1="302" y1="752.5" x2="305.5" y2="752.5" stroke="#000" stroke-width="1"/>
<text x="296.7" y="757.2" font-size="13.2" font-weight="bold" text-anchor="end" textLength="5" lengthAdjust="spacingAndGlyphs" stroke="#000" stroke-width="0.25">0</text>
<line x1="302" y1="732.5" x2="305.5" y2="732.5" stroke="#000" stroke-width="1"/>
<text x="296.7" y="737.2" font-size="13.2" font-weight="bold" text-anchor="end" textLength="5" lengthAdjust="spacingAndGlyphs" stroke="#000" stroke-width="0.25">1</text>
<line x1="302" y1="712.5" x2="305.5" y2="712.5" stroke="#000" stroke-width="1"/>
<text x="296.7" y="717.2" font-size="13.2" font-weight="bold" text-anchor="end" textLength="5" lengthAdjust="spacingAndGlyphs" stroke="#000" stroke-width="0.25">2</text>
<line x1="302" y1="692.5" x2="305.5" y2="692.5" stroke="#000" stroke-width="1"/>
<text x="296.7" y="697.2" font-size="13.2" font-weight="bold" text-anchor="end" textLength="5" lengthAdjust="spacingAndGlyphs" stroke="#000" stroke-width="0.25">3</text>
<line x1="302" y1="672.5" x2="305.5" y2="672.5" stroke="#000" stroke-width="1"/>
<text x="296.7" y="677.2" font-size="13.2" font-weight="bold" text-anchor="end" textLength="5" lengthAdjust="spacingAndGlyphs" stroke="#000" stroke-width="0.25">4</text>
<line x1="302" y1="652.5" x2="305.5" y2="652.5" stroke="#000" stroke-width="1"/>
<text x="296.7" y="657.2" font-size="13.2" font-weight="bold" text-anchor="end" textLength="5" lengthAdjust="spacingAndGlyphs" stroke="#000" stroke-width="0.25">5</text>
<rect x="308.50" y="648.50" width="37.00" height="25.00" fill="#fff" stroke="#000" stroke-width="1"/>
<rect x="311.00" y="653.80" width="3.20" height="3.60" fill="#fff" stroke="#000" stroke-width="0.7"/>
<text x="315.3" y="658.3" font-size="7.8" font-weight="bold" text-anchor="start" textLength="26.5" lengthAdjust="spacingAndGlyphs" stroke="#000" stroke-width="0.15">Wildtype</text>
<rect x="311.00" y="665.20" width="3.20" height="3.60" fill="#3f3f3f" stroke="#000" stroke-width="0.7"/>
<text x="315.3" y="669.8" font-size="7.8" font-weight="bold" text-anchor="start" textLength="19.5" lengthAdjust="spacingAndGlyphs" stroke="#000" stroke-width="0.15">A-USF</text>
<text x="385.4" y="666.6" font-size="13.5" font-weight="bold" text-anchor="start" textLength="50.6" lengthAdjust="spacingAndGlyphs" stroke="#000" stroke-width="0.3">H4R3me2</text>
<text x="351" y="676.5" font-size="12.5" font-weight="bold" text-anchor="middle" >**</text>
<text x="458" y="667.2" font-size="12.5" font-weight="bold" text-anchor="middle" >**</text>
<rect x="312.65" y="732.50" width="10.10" height="20.00" fill="#c8c8c8" stroke="#000" stroke-width="0.9"/>
<rect x="322.75" y="732.50" width="10.10" height="20.00" fill="#3f3f3f" stroke="#000" stroke-width="0.9"/>
<rect x="347.90" y="682.10" width="10.10" height="70.40" fill="#c8c8c8" stroke="#000" stroke-width="0.9"/>
<line x1="352.95" y1="679.1" x2="352.95" y2="685.1" stroke="#000" stroke-width="0.9"/>
<line x1="351.45" y1="679.1" x2="354.45" y2="679.1" stroke="#000" stroke-width="0.9"/>
<line x1="351.45" y1="685.1" x2="354.45" y2="685.1" stroke="#000" stroke-width="0.9"/>
<rect x="358.00" y="707.50" width="10.10" height="45.00" fill="#3f3f3f" stroke="#000" stroke-width="0.9"/>
<line x1="363.05" y1="705.9" x2="363.05" y2="709.1" stroke="#000" stroke-width="0.9"/>
<line x1="361.55" y1="705.9" x2="364.55" y2="705.9" stroke="#000" stroke-width="0.9"/>
<line x1="361.55" y1="709.1" x2="364.55" y2="709.1" stroke="#000" stroke-width="0.9"/>
<rect x="383.20" y="730.50" width="10.10" height="22.00" fill="#c8c8c8" stroke="#000" stroke-width="0.9"/>
<line x1="388.25" y1="720.5" x2="388.25" y2="740.5" stroke="#000" stroke-width="0.9"/>
<line x1="386.75" y1="720.5" x2="389.75" y2="720.5" stroke="#000" stroke-width="0.9"/>
<line x1="386.75" y1="740.5" x2="389.75" y2="740.5" stroke="#000" stroke-width="0.9"/>
<rect x="393.30" y="722.10" width="10.10" height="30.40" fill="#3f3f3f" stroke="#000" stroke-width="0.9"/>
<line x1="398.35" y1="721.3000000000001" x2="398.35" y2="722.9" stroke="#000" stroke-width="0.9"/>
<line x1="396.85" y1="721.3000000000001" x2="399.85" y2="721.3000000000001" stroke="#000" stroke-width="0.9"/>
<line x1="396.85" y1="722.9" x2="399.85" y2="722.9" stroke="#000" stroke-width="0.9"/>
<rect x="418.50" y="732.50" width="10.10" height="20.00" fill="#c8c8c8" stroke="#000" stroke-width="0.9"/>
<line x1="423.55" y1="731.7" x2="423.55" y2="733.3" stroke="#000" stroke-width="0.9"/>
<line x1="422.05" y1="731.7" x2="425.05" y2="731.7" stroke="#000" stroke-width="0.9"/>
<line x1="422.05" y1="733.3" x2="425.05" y2="733.3" stroke="#000" stroke-width="0.9"/>
<rect x="428.60" y="726.10" width="10.10" height="26.40" fill="#3f3f3f" stroke="#000" stroke-width="0.9"/>
<line x1="433.65000000000003" y1="722.1" x2="433.65000000000003" y2="730.1" stroke="#000" stroke-width="0.9"/>
<line x1="432.15000000000003" y1="722.1" x2="435.15000000000003" y2="722.1" stroke="#000" stroke-width="0.9"/>
<line x1="432.15000000000003" y1="730.1" x2="435.15000000000003" y2="730.1" stroke="#000" stroke-width="0.9"/>
<rect x="454.10" y="671.90" width="10.10" height="80.60" fill="#c8c8c8" stroke="#000" stroke-width="0.9"/>
<line x1="459.15" y1="668.6999999999999" x2="459.15" y2="675.1" stroke="#000" stroke-width="0.9"/>
<line x1="457.65" y1="668.6999999999999" x2="460.65" y2="668.6999999999999" stroke="#000" stroke-width="0.9"/>
<line x1="457.65" y1="675.1" x2="460.65" y2="675.1" stroke="#000" stroke-width="0.9"/>
<rect x="464.20" y="726.10" width="10.10" height="26.40" fill="#3f3f3f" stroke="#000" stroke-width="0.9"/>
<line x1="469.25" y1="725.5" x2="469.25" y2="726.7" stroke="#000" stroke-width="0.9"/>
<line x1="467.75" y1="725.5" x2="470.75" y2="725.5" stroke="#000" stroke-width="0.9"/>
<line x1="467.75" y1="726.7" x2="470.75" y2="726.7" stroke="#000" stroke-width="0.9"/>
<rect x="488.90" y="710.50" width="10.10" height="42.00" fill="#c8c8c8" stroke="#000" stroke-width="0.9"/>
<line x1="493.95" y1="709.7" x2="493.95" y2="711.3" stroke="#000" stroke-width="0.9"/>
<line x1="492.45" y1="709.7" x2="495.45" y2="709.7" stroke="#000" stroke-width="0.9"/>
<line x1="492.45" y1="711.3" x2="495.45" y2="711.3" stroke="#000" stroke-width="0.9"/>
<rect x="499.00" y="722.10" width="10.10" height="30.40" fill="#3f3f3f" stroke="#000" stroke-width="0.9"/>
<line x1="504.05" y1="717.1" x2="504.05" y2="727.1" stroke="#000" stroke-width="0.9"/>
<line x1="502.55" y1="717.1" x2="505.55" y2="717.1" stroke="#000" stroke-width="0.9"/>
<line x1="502.55" y1="727.1" x2="505.55" y2="727.1" stroke="#000" stroke-width="0.9"/>
<line x1="341.25" y1="752.5" x2="341.25" y2="755.0" stroke="#000" stroke-width="1"/>
<line x1="376.25" y1="752.5" x2="376.25" y2="755.0" stroke="#000" stroke-width="1"/>
<line x1="411.5" y1="752.5" x2="411.5" y2="755.0" stroke="#000" stroke-width="1"/>
<line x1="447" y1="752.5" x2="447" y2="755.0" stroke="#000" stroke-width="1"/>
<line x1="516.8" y1="752.5" x2="516.8" y2="755.0" stroke="#000" stroke-width="1"/>
<line x1="475.6" y1="755.2" x2="484" y2="744.5" stroke="#000" stroke-width="1.1"/>
<line x1="478.2" y1="757.8" x2="486.2" y2="747.6" stroke="#000" stroke-width="1.1"/>
<text transform="translate(325,758.3) rotate(-90)" font-size="14.9" font-weight="normal" text-anchor="end" textLength="44" lengthAdjust="spacingAndGlyphs" stroke="#000" stroke-width="0.2">5’LCR</text>
<text transform="translate(360.5,758.3) rotate(-90)" font-size="14.9" font-weight="normal" text-anchor="end" stroke="#000" stroke-width="0.2">HS2</text>
<text transform="translate(396.5,758.3) rotate(-90)" font-size="14.9" font-weight="normal" text-anchor="end" stroke="#000" stroke-width="0.2">ε<tspan dy="-5" font-size="10">y</tspan><tspan dy="5" font-size="0.1">&#8203;</tspan> Pro.</text>
<text transform="translate(434.3,758.3) rotate(-90)" font-size="14.9" font-weight="normal" text-anchor="end" stroke="#000" stroke-width="0.2">βH1 pro.</text>
<text transform="translate(468.3,758.3) rotate(-90)" font-size="14.9" font-weight="normal" text-anchor="end" stroke="#000" stroke-width="0.2">β<tspan dy="-4.5" font-size="10.5" font-weight="bold" stroke="none">maj</tspan><tspan dy="4.5">-pro.</tspan></text>
<text transform="translate(507,758.3) rotate(-90)" font-size="14.9" font-weight="normal" text-anchor="end" stroke="#000" stroke-width="0.2">GAPDH</text>
</svg>
</body></html>
